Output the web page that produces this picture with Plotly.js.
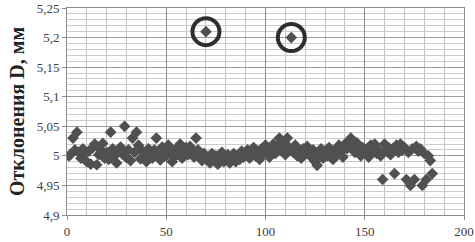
<!DOCTYPE html>
<html>
<head>
<meta charset="utf-8">
<script src="https://cdn.plot.ly/plotly-3.0.1.min.js"></script>
<style>html,body{margin:0;padding:0;background:#fff;}#chart{width:475px;height:242px;}</style>
</head>
<body>
<div id="chart"></div>
<script>
// Measured deviations D, mm, by measurement number (1..184)
const deviations = [
  5.000, 5.003, 5.030, 5.010, 5.040, 5.006, 4.996, 5.012, 5.004, 4.990,
  5.008, 4.986, 5.014, 5.020, 4.985, 5.002, 5.010, 5.021, 4.996, 5.006,
  4.994, 5.040, 5.012, 5.000, 4.988, 5.008, 5.015, 5.003, 5.050, 4.997,
  5.010, 4.992, 5.030, 5.006, 5.040, 5.018, 4.995, 5.008, 5.002, 4.990,
  5.012, 5.004, 4.996, 5.010, 5.030, 5.001, 4.993, 5.015, 5.006, 5.000,
  5.018, 5.008, 4.990, 4.998, 5.012, 5.004, 5.020, 4.996, 5.010, 5.014,
  5.002, 5.016, 5.006, 4.998, 5.030, 5.010, 5.000, 4.992, 5.004, 5.210,
  4.996, 4.988, 5.004, 4.992, 5.000, 4.986, 4.998, 5.006, 4.990, 4.995,
  5.002, 4.988, 4.996, 5.004, 4.990, 5.000, 4.994, 5.008, 4.998, 5.004,
  5.010, 4.996, 5.006, 5.014, 5.000, 5.008, 4.994, 5.012, 5.004, 5.018,
  5.006, 4.998, 5.012, 5.020, 5.004, 5.016, 5.030, 5.010, 5.022, 5.002,
  5.030, 5.014, 5.200, 5.006, 5.018, 5.000, 5.010, 4.996, 5.012, 5.004,
  5.016, 5.006, 4.998, 5.010, 4.990, 4.984, 5.002, 5.012, 4.996, 5.008,
  5.000, 5.014, 5.004, 4.994, 5.010, 5.002, 5.018, 5.008, 4.998, 5.020,
  5.012, 5.024, 5.030, 5.016, 5.006, 5.022, 5.010, 5.000, 5.014, 5.004,
  5.012, 4.998, 5.018, 5.008, 5.020, 5.004, 5.010, 5.000, 4.960, 5.020,
  5.008, 5.014, 5.002, 5.012, 4.970, 5.018, 5.006, 5.020, 5.010, 5.014,
  4.960, 5.006, 4.950, 5.012, 4.960, 5.016, 5.008, 5.012, 4.950, 5.004,
  4.960, 5.000, 4.992, 4.970
];
// Measurement numbers of the circled outliers
const outlierNumbers = [70, 113];
const yTickVals = [4.9, 4.95, 5, 5.05, 5.1, 5.15, 5.2, 5.25];
const yTickText = ['4,9', '4,95', '5', '5,05', '5,1', '5,15', '5,2', '5,25'];
const xTickVals = [0, 50, 100, 150, 200];
const yTitle = 'Отклонения D, мм';

const measurementNumbers = deviations.map((_, i) => i + 1);
const outlierValues = outlierNumbers.map(n => deviations[n - 1]);

const serif = 'Liberation Serif, Times New Roman, serif';

const traces = [
  {
    type: 'scatter', mode: 'markers',
    x: measurementNumbers, y: deviations,
    marker: {symbol: 'diamond', size: 9, color: '#505050', line: {width: 0}},
    hoverinfo: 'x+y'
  },
  {
    type: 'scatter', mode: 'markers',
    x: outlierNumbers, y: outlierValues,
    marker: {symbol: 'circle-open', size: 27, color: '#2e2e2e', line: {width: 4, color: '#2e2e2e'}},
    hoverinfo: 'skip'
  }
];

const layout = {
  width: 475, height: 242,
  margin: {l: 67, r: 11, t: 8, b: 27},
  paper_bgcolor: '#ffffff', plot_bgcolor: '#ffffff',
  showlegend: false,
  font: {family: serif, size: 12, color: '#404040'},
  xaxis: {
    range: [0, 200], tickvals: xTickVals,
    showgrid: true, gridcolor: '#8c8c8c', gridwidth: 1,
    minor: {dtick: 10, showgrid: true, gridcolor: '#c4c4c4', gridwidth: 1, ticks: ''},
    showline: true, linecolor: '#8c8c8c', linewidth: 1, mirror: true,
    ticks: 'outside', ticklen: 4, tickcolor: '#8c8c8c',
    zeroline: false,
    tickfont: {family: serif, size: 13, color: '#404040'}
  },
  yaxis: {
    range: [4.9, 5.25], tickvals: yTickVals, ticktext: yTickText,
    showgrid: true, gridcolor: '#9a9a9a', gridwidth: 1,
    minor: {dtick: 0.01, showgrid: true, gridcolor: '#cccccc', gridwidth: 1, ticks: ''},
    showline: true, linecolor: '#8c8c8c', linewidth: 1, mirror: true,
    ticks: 'outside', ticklen: 4, tickcolor: '#8c8c8c',
    zeroline: false,
    tickfont: {family: serif, size: 13, color: '#404040'},
    title: {text: yTitle, font: {family: serif, size: 20, color: '#222222', weight: 'bold'}, standoff: 6}
  }
};

Plotly.newPlot('chart', traces, layout, {displayModeBar: false, staticPlot: true});
</script>
</body>
</html>
